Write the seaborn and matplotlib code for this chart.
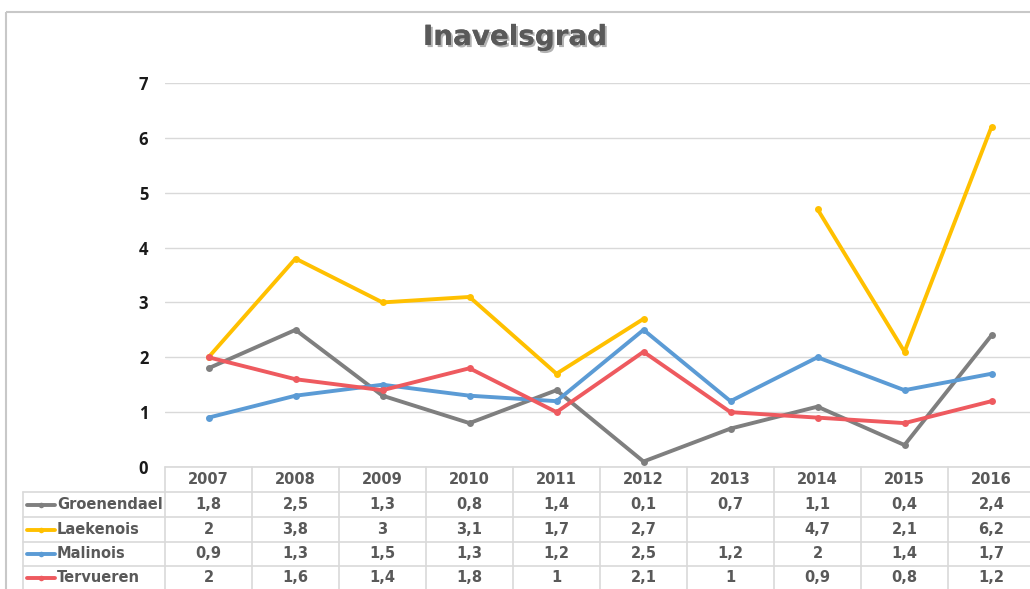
import numpy as np
import pandas as pd
import seaborn as sns
import matplotlib.pyplot as plt
import matplotlib.patheffects as pe
from matplotlib.patches import Rectangle
from matplotlib.lines import Line2D
from matplotlib.transforms import blended_transform_factory

# data
years = [2007, 2008, 2009, 2010, 2011, 2012, 2013, 2014, 2015, 2016]
breeds = ['Groenendael', 'Laekenois', 'Malinois', 'Tervueren']
groenendael = [1.8, 2.5, 1.3, 0.8, 1.4, 0.1, 0.7, 1.1, 0.4, 2.4]
laekenois = [2, 3.8, 3, 3.1, 1.7, 2.7, np.nan, 4.7, 2.1, 6.2]
malinois = [0.9, 1.3, 1.5, 1.3, 1.2, 2.5, 1.2, 2, 1.4, 1.7]
tervueren = [2, 1.6, 1.4, 1.8, 1, 2.1, 1, 0.9, 0.8, 1.2]
series = [groenendael, laekenois, malinois, tervueren]
colors = ['#7F7F7F', '#FFC000', '#5B9BD5', '#EE5A5F']

# long format, a new segment after each gap so the line breaks there
rows = []
for breed, vals in zip(breeds, series):
    seg = 0
    for yr, v in zip(years, vals):
        if np.isnan(v):
            seg += 1
            continue
        rows.append(dict(breed=breed, year=yr, value=v, seg=seg))
df = pd.DataFrame(rows)

sns.set_style('white')
W, H = 1030, 589
fig = plt.figure(figsize=(W / 100, H / 100), dpi=100)

# overlay in pixel coords for the frame and the data table
tab = fig.add_axes([0, 0, 1, 1])
tab.set_xlim(0, W)
tab.set_ylim(H, 0)
tab.axis('off')

ax = fig.add_axes([165 / W, (H - 467) / H, 870 / W, 384 / H])
ax.patch.set_visible(False)
sns.lineplot(data=df, x='year', y='value', hue='breed', units='seg', estimator=None,
             palette=dict(zip(breeds, colors)), marker='o', markersize=5,
             markeredgewidth=0, linewidth=2.8, legend=False, ax=ax, sort=False)
ax.set_xlim(2006.5, 2016.5)
ax.set_ylim(0, 7)
ax.set_yticks(range(8))
ax.set_xticks([])
ax.set_xlabel('')
ax.set_ylabel('')
ax.yaxis.grid(True, color='#D9D9D9', lw=1)
ax.set_axisbelow(True)
for s in ax.spines.values():
    s.set_visible(False)
ax.tick_params(axis='y', length=0, pad=12, labelsize=12, labelcolor='#1a1a1a')
for lbl in ax.get_yticklabels():
    lbl.set_fontweight('bold')
    lbl.set_family('Open Sans')

# chart frame
tab.add_patch(Rectangle((6, 12), W, H, fill=False, ec='#C8C8C8', lw=1.5))

# title
tab.text(515, 37, 'Inavelsgrad', ha='center', va='center', fontsize=20,
         fontweight='bold', color='#595959',
         path_effects=[pe.withSimplePatchShadow(offset=(1.5, -1.5), shadow_rgbFace='#808080', alpha=0.6),
                       pe.Normal()])

# data table
grid_c = '#D9D9D9'
row_y = [467, 492, 517, 542, 566, H]
cell_w = 87
x0 = 165
trans = blended_transform_factory(ax.transData, tab.transData)
tab.plot([x0, W], [467, 467], color=grid_c, lw=1.2)
for y in row_y[1:-1]:
    tab.plot([23, W], [y, y], color=grid_c, lw=1.2)
for k in range(len(years) + 1):
    tab.plot([x0 + k * cell_w] * 2, [467, H], color=grid_c, lw=1.2)
tab.plot([23, 23], [492, H], color=grid_c, lw=1.2)

txt_kw = dict(ha='center', va='center', fontsize=10.5, fontweight='bold', color='#595959')
hy = (row_y[0] + row_y[1]) / 2
for yr in years:
    tab.text(yr, hy, str(yr), transform=trans, **txt_kw)


def fmt(v):
    if np.isnan(v):
        return ''
    if float(v).is_integer():
        return str(int(v))
    return f'{v:.1f}'.replace('.', ',')


for i, (breed, vals, c) in enumerate(zip(breeds, series, colors)):
    cy = (row_y[i + 1] + row_y[i + 2]) / 2
    tab.add_line(Line2D([27, 55], [cy, cy], color=c, lw=2.8))
    tab.add_line(Line2D([41], [cy], color=c, marker='o', markersize=4, markeredgewidth=0))
    tab.text(57, cy, breed, ha='left', va='center', fontsize=10.5,
             fontweight='bold', color='#595959')
    for yr, v in zip(years, vals):
        tab.text(yr, cy, fmt(v), transform=trans, **txt_kw)

fig.savefig('out.png', dpi=100)
